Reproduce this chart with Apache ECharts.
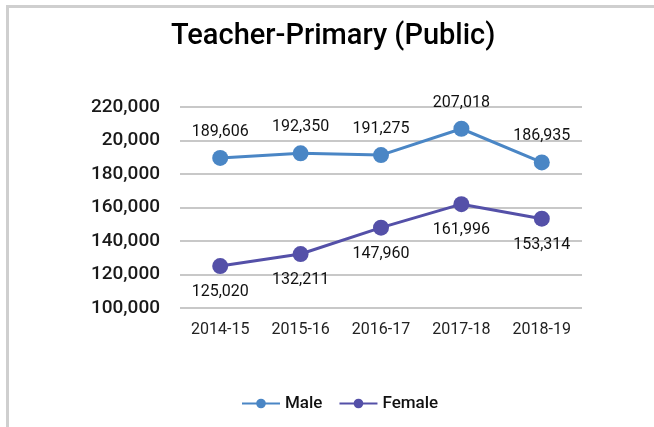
<!DOCTYPE html>
<html>
<head>
<meta charset="utf-8">
<script src="https://cdn.jsdelivr.net/npm/echarts@6/dist/echarts.min.js"></script>
<style>
    html, body {margin: 0; padding: 0; background: #fff;}
    #frame {position: absolute; left: 6px; top: 5px; width: 660px; height: 430px;
        border-left: 3px solid #cfcfcf; border-top: 3px solid #cfcfcf;}
    #chart {position: absolute; left: 0; top: 0; width: 654px; height: 427px;}
</style>
</head>
<body>
<div id="frame"></div>
<div id="chart"></div>
<script>
var years = ['2014-15', '2015-16', '2016-17', '2017-18', '2018-19'];
var male = [189606, 192350, 191275, 207018, 186935];
var female = [125020, 132211, 147960, 161996, 153314];
// the source chart really prints "20,000" for the 200,000 line
var yTicks = ['100,000', '120,000', '140,000', '160,000', '180,000', '20,000', '220,000'];

var chart = echarts.init(document.getElementById('chart'));

function fmt(v) {
    return v.toLocaleString('en-US');
}

chart.setOption({
    animation: false,
    textStyle: {fontFamily: 'Roboto'},
    title: {
        text: 'Teacher-Primary (Public)',
        left: 166,
        top: 17,
        textStyle: {fontSize: 29, fontWeight: 500, color: '#000', fontFamily: 'Roboto'}
    },
    legend: {
        data: ['Male', 'Female'],
        left: 236,
        top: 390,
        itemWidth: 38,
        itemHeight: 12,
        itemGap: 16,
        textStyle: {fontSize: 17, fontWeight: 500, color: '#111', fontFamily: 'Roboto'}
    },
    grid: {left: 180, right: 72, top: 107, bottom: 119},
    xAxis: {
        type: 'category',
        data: years,
        boundaryGap: true,
        axisLine: {show: false},
        axisTick: {show: false},
        axisLabel: {fontSize: 16, color: '#222', margin: 14}
    },
    yAxis: {
        type: 'value',
        min: 100000,
        max: 220000,
        interval: 20000,
        axisLine: {show: false},
        axisTick: {show: false},
        axisLabel: {
            fontSize: 19,
            fontWeight: 500,
            color: '#1a1a1a',
            margin: 20,
            formatter: function (v) {
                return yTicks[Math.round((v - 100000) / 20000)];
            }
        },
        splitLine: {lineStyle: {color: '#c8c8c8', width: 2}}
    },
    series: [
        {
            name: 'Male',
            type: 'line',
            data: male,
            symbol: 'circle',
            symbolSize: 16,
            lineStyle: {width: 3, color: '#4a86c5'},
            itemStyle: {color: '#4a86c5'},
            label: {show: true, position: 'top', distance: 10, fontSize: 16, color: '#111',
                formatter: function (p) { return fmt(p.value); }}
        },
        {
            name: 'Female',
            type: 'line',
            data: female,
            symbol: 'circle',
            symbolSize: 16,
            lineStyle: {width: 3, color: '#5450a8'},
            itemStyle: {color: '#5450a8'},
            label: {show: true, position: 'bottom', distance: 10, fontSize: 16, color: '#111',
                formatter: function (p) { return fmt(p.value); }}
        }
    ]
});
</script>
</body>
</html>
